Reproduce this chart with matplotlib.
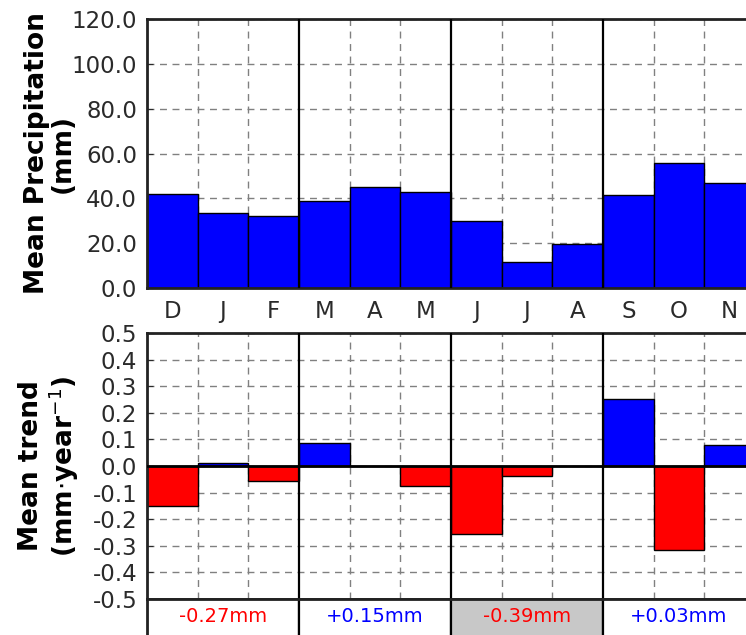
import numpy as np
import matplotlib.pyplot as plt
from matplotlib.patches import Rectangle

months = ['D', 'J', 'F', 'M', 'A', 'M', 'J', 'J', 'A', 'S', 'O', 'N']
precip = [41.8, 33.5, 31.9, 38.6, 45.0, 42.9, 30.1, 11.8, 19.6, 41.4, 55.7, 46.7]
trend = [-0.15, 0.01, -0.055, 0.088, 0.0, -0.077, -0.257, -0.036, 0.0, 0.251, -0.317, 0.078]
season_totals = [-0.27, 0.15, -0.39, 0.03]
highlight = 2  # JJA

x = np.arange(len(months))
font = 16.5

fig = plt.figure(figsize=(7.46, 6.35), dpi=100)
ax1 = fig.add_axes([0.197, 0.5465, 0.815, 0.4235])
ax2 = fig.add_axes([0.197, 0.0572, 0.815, 0.4178])
ax3 = fig.add_axes([0.197, -0.006, 0.815, 0.0632])

def frame(ax):
    for s in ax.spines.values():
        s.set_linewidth(2)
        s.set_color('#222222')
    ax.set_xlim(-0.5, len(months) - 0.5)
    for b in np.arange(0.5, len(months) - 0.5, 1.0):
        if (b + 0.5) % 3 == 0:
            ax.axvline(b, color='black', lw=1.6, zorder=3)
        else:
            ax.axvline(b, color='gray', lw=1, ls=(0, (5, 4)), zorder=0.5)
    ax.tick_params(direction='in', length=4, labelsize=font, colors='#2a2a2a', pad=7)

def fmt(v):
    s = f'{v:.1f}'
    return '0.0' if s == '-0.0' else s

# precipitation
ax1.bar(x, precip, width=1.0, color='blue', edgecolor='black', lw=1, zorder=2)
frame(ax1)
ax1.set_ylim(0, 120)
ax1.set_yticks(np.arange(0, 121, 20))
ax1.set_yticklabels([fmt(v) for v in np.arange(0, 121, 20)])
ax1.yaxis.grid(True, color='gray', lw=1, ls=(0, (5, 4)), zorder=0.5)
ax1.set_axisbelow(True)
ax1.set_xticks(x)
ax1.set_xticklabels(months)
ax1.tick_params(axis='x', length=0, pad=9)
ax1.set_ylabel('Mean Precipitation\n(mm)', fontsize=19, fontweight='heavy', labelpad=-3, linespacing=1.0)

# trend
cols = ['blue' if v >= 0 else 'red' for v in trend]
ax2.bar(x, trend, width=1.0, color=cols, edgecolor='black', lw=1, zorder=2)
frame(ax2)
ax2.set_ylim(-0.5, 0.5)
yt = np.round(np.arange(-0.5, 0.51, 0.1), 1)
ax2.set_yticks(yt)
ax2.set_yticklabels([fmt(v) for v in yt])
ax2.yaxis.grid(True, color='gray', lw=1, ls=(0, (5, 4)), zorder=0.5)
ax2.set_axisbelow(True)
ax2.axhline(0, color='black', lw=2, zorder=3)
ax2.set_xticks(x)
ax2.set_xticklabels([])
ax2.tick_params(axis='x', length=0)
ax2.set_ylabel('Mean trend\n(mm$\\cdot$year$^{-1}$)', fontsize=19, fontweight='heavy', labelpad=8, linespacing=1.1)

# seasonal totals row
ax3.set_xlim(-0.5, len(months) - 0.5)
ax3.set_ylim(0, 1)
ax3.set_xticks([])
ax3.set_yticks([])
for s in ax3.spines.values():
    s.set_linewidth(2)
    s.set_color('#222222')
for i, v in enumerate(season_totals):
    left = i * 3 - 0.5
    fc = '#c8c8c8' if i == highlight else 'white'
    ax3.add_patch(Rectangle((left, 0), 3, 1, facecolor=fc, edgecolor='black', lw=1.6))
    ax3.text(left + 1.5, 0.55, f'{v:+.2f}mm', color='blue' if v > 0 else 'red',
             ha='center', va='center', fontsize=14)

fig.savefig('out.png', dpi=100)
